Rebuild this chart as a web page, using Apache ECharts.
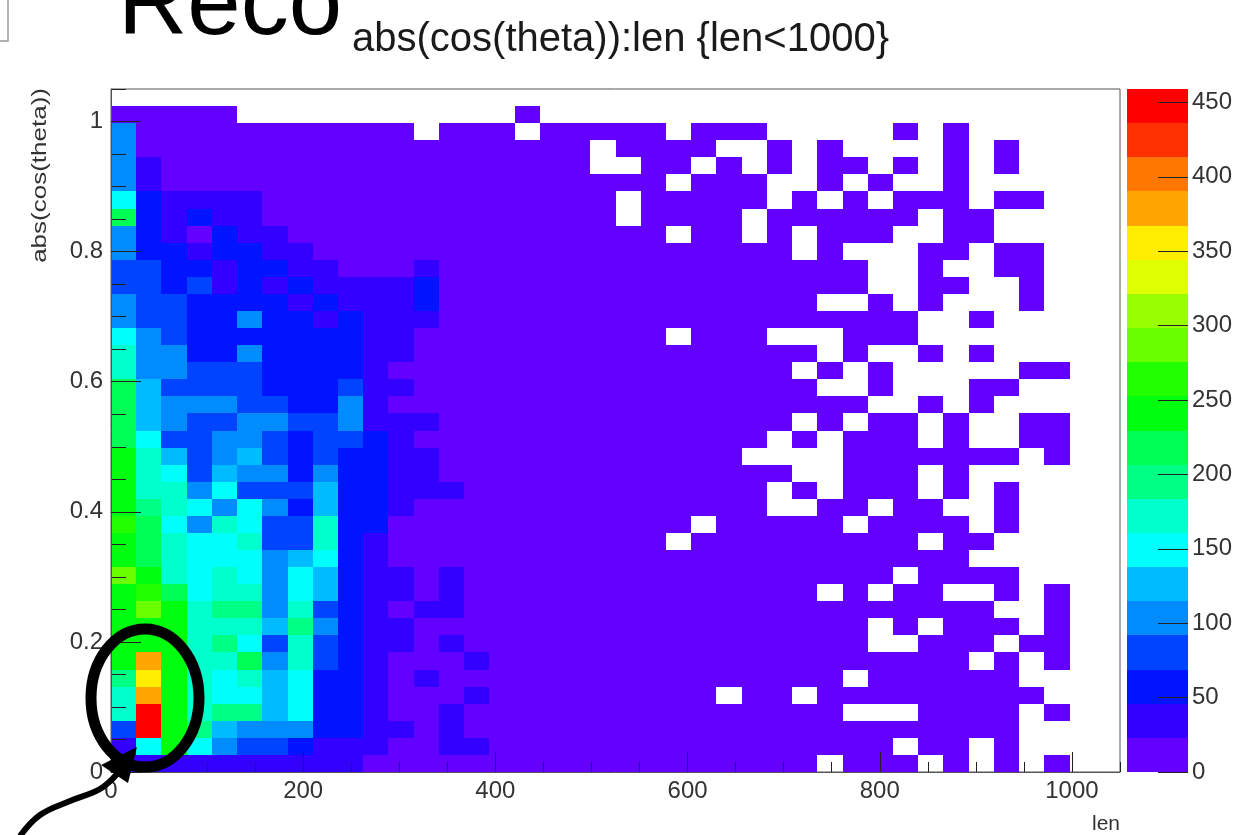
<!DOCTYPE html>
<html>
<head>
<meta charset="utf-8">
<script src="https://cdn.jsdelivr.net/npm/echarts@6/dist/echarts.min.js"></script>
<style>
html,body{margin:0;padding:0;background:#fff;}
#main{width:1241px;height:835px;}
</style>
</head>
<body>
<div id="main"></div>
<script>
// histogram binning (ROOT default 40x40 bins)
var lenRange = [0, 1050];
var cosRange = [0, 1.05];
var nBinsX = 40;
var nBinsY = 40;
var zMax = 459;
var nContours = 20;
var lenTickStep = 200;
var cosTickStep = 0.2;
var paletteTicks = [0, 50, 100, 150, 200, 250, 300, 350, 400, 450];

// bin contents, one row per abs(cos(theta)) bin, top row first (bin 38 .. bin 0)
// columns are len bins 0..37 (bins 38,39 are empty)
var counts = [
[12,12,12,12,12,0,0,0,0,0,0,0,0,0,0,0,4,0,0,0,0,0,0,0,0,0,0,0,0,0,0,0,0,0,0,0,0,0],
[103,12,12,12,12,12,12,12,12,12,12,12,0,12,12,12,0,12,4,4,4,4,0,4,4,4,0,0,0,0,0,4,0,4,0,0,0,0],
[103,12,12,12,12,12,12,12,12,12,12,12,12,12,12,12,12,12,4,0,4,4,4,4,0,0,4,0,4,0,0,0,0,4,0,4,0,0],
[103,34,12,12,12,12,12,12,12,12,12,12,12,12,12,12,12,12,4,0,0,4,4,0,4,0,4,0,4,4,0,4,0,4,0,4,0,0],
[103,34,12,12,12,12,12,12,12,12,12,12,12,12,12,12,12,12,4,4,4,4,0,4,4,4,0,0,4,0,4,0,0,4,0,0,0,0],
[149,57,34,34,34,34,12,12,12,12,12,12,12,12,12,12,12,12,4,4,0,4,4,4,4,4,0,4,0,4,0,4,4,4,0,4,4,0],
[218,57,34,57,34,34,12,12,12,12,12,12,12,12,12,12,12,12,4,4,0,4,4,4,4,0,4,4,4,4,4,4,0,4,4,0,0,0],
[103,57,34,12,57,34,34,12,12,12,12,12,12,12,12,12,12,12,4,4,4,4,0,4,4,0,4,0,4,4,4,0,0,4,4,0,0,0],
[103,57,57,34,57,57,34,34,12,12,12,12,12,12,12,12,12,12,4,4,4,4,4,4,4,4,4,0,4,0,0,0,4,4,0,4,4,0],
[80,80,57,57,34,57,57,34,34,12,12,12,34,12,12,12,12,12,4,4,4,4,4,4,4,4,4,4,4,4,0,0,4,0,0,4,4,0],
[80,80,57,80,34,57,34,57,34,34,34,34,57,12,12,12,12,12,4,4,4,4,4,4,4,4,4,4,4,4,0,0,4,4,0,0,4,0],
[103,80,80,57,57,57,57,34,57,34,34,34,57,12,12,12,12,12,4,4,4,4,4,4,4,4,4,4,0,0,4,0,4,0,0,0,4,0],
[103,80,80,57,57,103,57,57,34,57,34,34,34,12,12,12,12,12,4,4,4,4,4,4,4,4,4,4,4,4,4,4,0,0,4,0,0,0],
[149,103,80,57,57,57,57,57,57,57,34,34,12,12,12,12,12,12,4,4,4,4,0,4,4,4,0,0,0,4,4,4,0,0,0,0,0,0],
[172,103,103,57,57,103,57,57,57,57,34,34,12,12,12,12,12,12,4,4,4,4,4,4,4,4,4,4,0,4,0,0,4,0,4,0,0,0],
[172,103,103,80,80,80,57,57,57,57,34,12,12,12,12,12,12,12,4,4,4,4,4,4,4,4,4,0,4,0,4,0,0,0,0,0,4,4],
[218,126,80,80,80,80,57,57,57,80,34,34,12,12,12,12,12,12,4,4,4,4,4,4,4,4,4,4,0,0,4,0,0,0,4,4,0,0],
[218,126,103,103,103,80,80,57,57,103,34,12,12,12,12,12,12,12,4,4,4,4,4,4,4,4,4,4,4,4,0,0,4,0,4,0,0,0],
[218,126,103,80,80,103,103,80,80,103,34,34,34,12,12,12,12,12,4,4,4,4,4,4,4,4,4,0,4,0,4,4,0,4,0,0,4,4],
[218,149,80,80,103,103,80,57,80,80,57,34,12,12,12,12,12,12,4,4,4,4,4,4,4,4,0,4,0,4,4,4,0,4,0,0,4,4],
[241,172,126,80,103,126,80,57,80,57,57,34,34,12,12,12,12,12,4,4,4,4,4,4,4,0,0,0,0,4,4,4,4,4,4,4,0,4],
[241,172,149,80,126,103,103,57,103,57,57,34,34,12,12,12,12,12,4,4,4,4,4,4,4,4,4,0,0,4,4,4,0,4,0,0,0,0],
[241,172,172,103,149,80,80,80,126,57,57,34,34,34,12,12,12,12,4,4,4,4,4,4,4,4,0,4,0,4,4,4,0,4,0,4,0,0],
[241,195,172,149,103,149,103,57,126,57,57,34,12,12,12,12,12,12,4,4,4,4,4,4,4,4,0,0,4,4,0,4,4,0,0,4,0,0],
[264,218,149,103,172,149,80,80,172,57,57,12,12,12,12,12,12,12,4,4,4,4,4,0,4,4,4,4,4,0,4,4,4,4,0,4,0,0],
[241,218,172,149,149,172,80,80,172,57,34,12,12,12,12,12,12,12,4,4,4,4,0,4,4,4,4,4,4,4,4,4,0,4,4,0,0,0],
[241,218,172,149,149,149,103,126,149,57,34,12,12,12,12,12,12,12,4,4,4,4,4,4,4,4,4,4,4,4,4,4,4,4,0,0,0,0],
[287,241,172,149,172,149,103,149,126,57,34,34,12,34,12,12,12,12,4,4,4,4,4,4,4,4,4,4,4,4,4,0,4,4,4,4,0,0],
[241,264,218,149,172,172,103,149,126,57,34,34,12,34,12,12,12,12,4,4,4,4,4,4,4,4,4,4,0,4,0,4,4,0,0,4,0,4],
[241,287,241,172,195,195,103,172,80,57,34,12,34,34,12,12,12,12,4,4,4,4,4,4,4,4,4,4,4,4,4,4,4,4,4,0,0,4],
[241,241,241,172,172,172,126,195,103,57,34,34,12,12,12,12,12,12,4,4,4,4,4,4,4,4,4,4,4,4,0,4,0,4,4,4,0,4],
[241,241,241,172,195,149,80,172,80,57,34,34,12,34,12,12,12,12,4,4,4,4,4,4,4,4,4,4,4,4,0,0,4,4,4,0,4,4],
[241,379,241,172,172,218,103,172,80,57,34,12,12,12,34,12,12,12,4,4,4,4,4,4,4,4,4,4,4,4,4,4,4,4,0,4,0,4],
[195,356,241,172,149,172,126,149,57,57,34,12,34,12,12,12,12,12,4,4,4,4,4,4,4,4,4,4,4,0,4,4,4,4,4,4,0,0],
[172,385,241,172,149,149,126,149,57,57,34,12,12,12,34,12,12,12,4,4,4,4,4,4,0,4,4,0,4,4,4,4,4,4,4,4,4,0],
[172,440,241,172,195,195,126,149,57,57,34,12,12,34,12,12,12,12,4,4,4,4,4,4,4,4,4,4,4,0,0,0,4,4,4,4,0,4],
[80,459,241,195,126,103,103,103,57,57,34,34,12,34,12,12,12,12,4,4,4,4,4,4,4,4,4,4,4,4,4,4,4,4,4,4,0,0],
[34,149,241,149,103,80,80,57,34,34,34,12,12,34,34,12,12,12,4,4,4,4,4,4,4,4,4,4,4,4,4,0,4,4,0,4,0,0],
[34,34,34,34,34,34,34,34,34,34,12,12,12,12,12,12,12,12,4,4,4,4,4,4,4,4,4,4,0,4,4,4,0,4,0,4,0,4]
];

// old ROOT "pretty palette" (violet -> red), 20 contours
var palette = ['#6300ff','#3300ff','#0014ff','#0044ff','#008bff','#00bbff','#00fffc','#00ffcc','#00ff85','#00ff55',
               '#00ff0e','#22ff00','#69ff00','#99ff00','#e0ff00','#ffee00','#ffa700','#ff7700','#ff3000','#ff0000'];

var binW = (lenRange[1] - lenRange[0]) / nBinsX;
var binH = (cosRange[1] - cosRange[0]) / nBinsY;
var step = zMax / nContours;

var cells = [];
for (var r = 0; r < counts.length; r++) {
  var j = counts.length - 1 - r;
  for (var i = 0; i < counts[r].length; i++) {
    if (counts[r][i] > 0) {
      cells.push([lenRange[0] + i * binW, cosRange[0] + j * binH, counts[r][i]]);
    }
  }
}

var levels = [];
var pieces = [];
for (var k = 0; k < nContours; k++) {
  levels.push([k * step, (k + 1) * step, (k + 0.5) * step]);
  if (k < nContours - 1) pieces.push({gte: k * step, lt: (k + 1) * step, color: palette[k]});
  else pieces.push({gte: k * step, lte: zMax + 1, color: palette[k]});
}

function renderCell(params, api) {
  var a = api.coord([api.value(0), api.value(1)]);
  var b = api.coord([api.value(0) + binW, api.value(1) + binH]);
  var x0 = Math.round(a[0]), x1 = Math.round(b[0]);
  var y0 = Math.round(b[1]), y1 = Math.round(a[1]);
  return {type: 'rect', shape: {x: x0, y: y0, width: x1 - x0, height: y1 - y0},
          style: {fill: api.visual('color')}};
}

function renderLevel(params, api) {
  var a = api.coord([0, api.value(0)]);
  var b = api.coord([1, api.value(1)]);
  var y0 = Math.round(b[1]), y1 = Math.round(a[1]);
  return {type: 'rect', shape: {x: Math.round(a[0]), y: y0, width: Math.round(b[0]) - Math.round(a[0]), height: y1 - y0},
          style: {fill: api.visual('color')}};
}

var labelFont = {fontSize: 24, color: '#333', fontFamily: 'Liberation Sans'};
var tickLine = {color: '#222', width: 1};

var chart = echarts.init(document.getElementById('main'));
var option = {
  animation: false,
  backgroundColor: '#fff',
  textStyle: {fontFamily: 'Liberation Sans'},
  title: {
    text: 'abs(cos(theta)):len {len<1000}',
    left: 347, top: 15,
    textStyle: {fontSize: 40, fontWeight: 'normal', color: '#1a1a1a', fontFamily: 'Liberation Sans'}
  },
  grid: [
    {left: 111, top: 89, width: 1009, height: 683, show: true, borderColor: '#555', borderWidth: 1, backgroundColor: 'transparent'},
    {left: 1127, top: 89, width: 61, height: 683, show: false}
  ],
  xAxis: [
    {type: 'value', gridIndex: 0, position: 'bottom', min: lenRange[0], max: lenRange[1], interval: lenTickStep, z: 5,
     axisLine: {show: true, onZero: false, lineStyle: {color: '#555'}},
     axisTick: {inside: true, length: 20, lineStyle: tickLine},
     axisLabel: Object.assign({showMaxLabel: false, margin: 7, formatter: function (v) { return String(v); }}, labelFont),
     splitLine: {show: false}},
    {type: 'value', gridIndex: 0, position: 'bottom', min: lenRange[0], max: lenRange[1], interval: lenTickStep / 4, z: 4,
     axisLine: {show: false, onZero: false}, axisTick: {inside: true, length: 10, lineStyle: tickLine},
     axisLabel: {show: false}, splitLine: {show: false}},
    {type: 'value', gridIndex: 1, min: 0, max: 1, show: false}
  ],
  yAxis: [
    {type: 'value', gridIndex: 0, position: 'left', min: cosRange[0], max: cosRange[1], interval: cosTickStep, z: 5,
     axisLine: {show: true, onZero: false, lineStyle: {color: '#555'}},
     axisTick: {inside: true, length: 30, lineStyle: tickLine},
     axisLabel: Object.assign({showMaxLabel: false, margin: 8}, labelFont),
     splitLine: {show: false}},
    {type: 'value', gridIndex: 0, position: 'left', min: cosRange[0], max: cosRange[1], interval: cosTickStep / 4, z: 4,
     axisLine: {show: false, onZero: false}, axisTick: {inside: true, length: 15, lineStyle: tickLine},
     axisLabel: {show: false}, splitLine: {show: false}},
    {type: 'value', gridIndex: 1, position: 'right', min: 0, max: zMax, interval: 50, z: 5,
     axisLine: {show: false, onZero: false},
     axisTick: {show: true, inside: true, length: 30, customValues: paletteTicks, lineStyle: tickLine},
     axisLabel: Object.assign({customValues: paletteTicks, margin: 4}, labelFont),
     splitLine: {show: false}}
  ],
  visualMap: {
    type: 'piecewise', show: false, dimension: 2, seriesIndex: [0, 1],
    pieces: pieces
  },
  series: [
    {type: 'custom', name: 'abs(cos(theta)):len', xAxisIndex: 0, yAxisIndex: 0, renderItem: renderCell,
     data: cells, silent: true, clip: true, encode: {x: 0, y: 1}},
    {type: 'custom', name: 'palette', xAxisIndex: 2, yAxisIndex: 2, renderItem: renderLevel,
     data: levels, silent: true, encode: {y: [0, 1]}}
  ],
  graphic: [
    {type: 'text', x: 118, y: 8, style: {text: 'Reco', fontSize: 96, fontFamily: 'Liberation Sans', fill: '#000', verticalAlign: 'middle'}},
    {type: 'polyline', shape: {points: [[0, 41], [8, 41], [8, 0]]}, style: {stroke: '#999', lineWidth: 1.5, fill: 'none'}},
    {type: 'text', x: 1120, y: 824, style: {text: 'len', fontSize: 21, fontFamily: 'Liberation Sans', fill: '#333', align: 'right', verticalAlign: 'middle'}},
    {type: 'text', x: 40, y: 88, rotation: Math.PI / 2, scaleX: 1.3,
     style: {text: 'abs(cos(theta))', fontSize: 20, fontFamily: 'Liberation Sans', fill: '#333', align: 'right', verticalAlign: 'middle'}},
    {type: 'ellipse', z: 100, shape: {cx: 145, cy: 698, rx: 54, ry: 69}, style: {stroke: '#000', lineWidth: 11, fill: 'none'}},
    {type: 'polyline', z: 100, shape: {points: [[20, 836], [40, 815], [70, 801], [100, 789], [117, 774]], smooth: 0.4},
     style: {stroke: '#000', lineWidth: 6, fill: 'none'}},
    {type: 'polygon', z: 100, shape: {points: [[137, 747], [101, 765], [128, 783]]}, style: {fill: '#000'}}
  ]
};
chart.setOption(option);
</script>
</body>
</html>
